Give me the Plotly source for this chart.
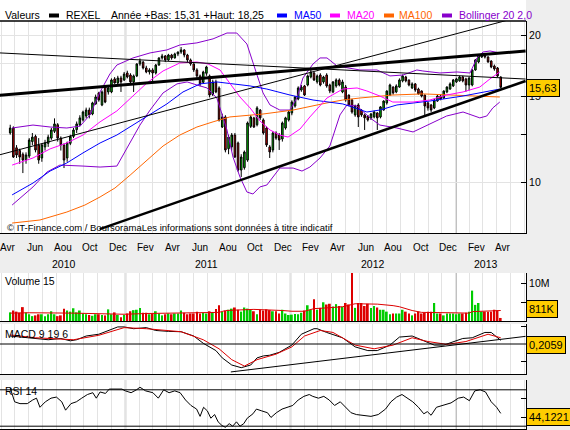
import plotly.graph_objects as go
import pandas as pd

W, H = 570, 430
FONT = "Liberation Sans, Arial, sans-serif"

# ---------------- data ----------------
first_week = "2010-04-21"
x_start, x_end = "2010-03-29 10:00", "2013-06-04 22:00"

open_ = [12.60,12.90,11.75,11.60,11.40,11.10,11.30,12.10,12.40,11.90,
         11.20,11.80,12.00,12.30,12.70,13.10,12.30,11.90,11.20,12.00,
         12.40,12.80,13.10,13.40,13.65,14.04,13.78,14.45,15.22,14.38,
         15.65,15.29,15.29,16.26,15.95,16.33,16.18,16.72,16.56,16.03,
         16.49,17.45,17.60,17.12,16.80,16.96,16.72,17.36,17.95,18.12,
         17.78,18.20,17.95,18.29,18.46,18.64,18.20,17.78,17.45,16.96,
         16.49,16.00,16.70,16.49,15.10,16.03,15.58,12.96,13.59,11.70,
         11.80,12.48,12.02,10.58,10.70,11.09,13.00,13.53,13.10,14.04,
         13.40,12.90,11.80,11.63,12.60,12.48,12.25,12.90,13.40,13.85,
         14.31,14.79,15.43,15.73,15.80,16.41,16.72,16.03,16.56,16.03,
         16.56,15.80,15.29,15.73,16.18,15.29,15.65,15.07,14.72,13.72,
         14.38,14.04,13.72,13.65,13.53,13.59,13.85,13.59,14.04,14.52,
         15.07,15.65,15.29,15.65,16.11,16.41,16.18,15.58,15.88,15.50,
         15.36,15.07,14.52,14.38,14.18,14.65,15.00,14.86,15.29,15.50,
         15.73,16.03,16.11,16.41,16.26,15.80,15.80,16.96,17.61,18.03,
         18.20,18.03,17.69,17.28,17.12,16.41]
high = [13.10,13.00,11.90,11.70,11.50,11.50,12.30,12.60,12.50,12.30,
        12.00,12.20,12.50,12.90,13.50,13.20,12.40,12.00,12.10,12.50,
        12.90,13.30,13.70,14.00,14.20,14.20,14.60,15.10,15.30,15.40,
        15.80,15.70,16.30,16.40,16.50,16.50,16.80,16.90,16.70,16.60,
        17.50,17.90,17.70,17.30,17.10,17.10,17.45,18.00,18.30,18.20,
        18.30,18.30,18.40,18.50,18.90,18.70,18.30,17.90,17.50,17.10,
        16.60,16.90,17.30,16.60,16.20,16.20,15.70,13.80,13.70,12.50,
        12.60,12.60,12.10,11.40,11.60,13.30,13.70,13.60,14.30,14.10,
        13.50,13.00,11.90,12.70,12.70,12.60,13.30,13.60,14.00,14.70,
        15.00,15.70,15.80,15.80,16.60,17.04,16.80,16.60,16.70,16.50,
        16.70,15.90,16.10,16.30,16.30,16.20,15.80,15.10,14.80,14.40,
        14.50,14.10,13.80,13.70,13.85,14.00,13.90,14.30,14.70,15.40,
        15.90,15.70,15.85,16.30,16.60,16.50,16.20,16.00,15.95,15.60,
        15.40,15.10,14.60,14.45,14.80,15.10,15.10,15.40,15.70,16.00,
        16.25,16.35,16.50,16.50,16.35,16.40,17.00,17.85,18.15,18.25,
        18.22,18.10,17.75,17.40,17.20,16.45]
low = [12.50,11.20,11.20,10.90,10.43,10.90,11.20,11.90,11.50,10.90,
       11.00,11.60,11.80,12.20,12.60,12.10,11.60,10.68,11.00,11.90,
       12.30,12.60,13.00,13.30,13.50,13.50,13.70,14.40,14.60,14.30,
       14.50,15.10,15.20,15.90,15.80,15.29,16.10,16.30,15.95,15.29,
       16.40,17.30,17.00,16.70,16.60,16.10,16.60,17.30,17.80,17.60,
       17.70,17.80,17.90,18.10,18.30,18.00,17.60,17.30,16.80,16.30,
       15.70,15.90,16.50,14.90,15.00,15.20,13.30,12.90,11.50,11.40,
       11.60,11.20,10.50,10.24,10.60,11.00,12.90,12.90,13.00,13.40,
       12.50,11.80,11.20,11.50,12.20,11.63,12.10,12.80,13.30,13.70,
       14.20,14.70,15.30,15.00,15.70,16.30,16.10,15.90,15.70,15.90,
       15.60,15.20,15.20,15.60,15.70,15.20,14.60,14.30,13.80,13.60,
       12.96,13.60,12.78,13.30,13.40,13.50,12.78,13.50,14.00,14.40,
       15.00,15.10,15.20,15.60,16.00,16.00,15.70,15.50,15.30,15.10,
       14.90,13.59,14.00,13.90,14.10,14.60,14.70,14.80,15.20,15.45,
       15.65,15.95,16.05,16.00,15.31,15.40,15.70,16.90,17.50,17.95,
       17.90,17.55,17.10,16.90,16.40,15.55]
close = [12.90,11.25,11.36,11.25,11.09,11.36,12.19,12.36,11.63,11.09,
         11.91,12.02,12.36,12.78,13.15,12.30,11.91,11.09,12.02,12.40,
         12.78,13.15,13.53,13.91,14.04,13.72,14.52,14.93,14.72,15.29,
         14.58,15.58,16.18,15.95,16.33,16.03,16.64,16.41,16.03,16.49,
         17.45,17.69,17.12,16.80,16.96,16.72,17.36,17.95,18.12,17.78,
         18.20,17.95,18.29,18.46,18.64,18.20,17.78,17.45,16.96,16.49,
         15.88,16.80,17.20,15.07,16.03,15.29,13.40,13.59,11.63,12.36,
         12.48,11.25,10.58,11.25,11.52,13.21,13.59,12.96,14.18,13.53,
         12.60,11.91,11.52,12.60,12.30,12.19,13.21,13.53,13.91,14.58,
         14.93,15.58,15.65,15.07,16.49,16.80,16.18,16.49,15.80,16.41,
         15.73,15.36,16.03,16.18,15.80,16.03,14.72,14.38,13.91,14.31,
         13.59,13.72,13.53,13.40,13.78,13.91,13.53,14.25,14.65,15.36,
         15.80,15.22,15.73,16.18,16.49,16.11,15.80,15.88,15.43,15.15,
         15.00,14.31,14.18,14.04,14.72,15.00,14.79,15.36,15.65,15.88,
         16.18,16.26,16.41,16.11,15.80,16.33,16.96,17.78,18.12,18.20,
         18.03,17.61,17.20,17.04,16.49,15.63]
volume_m = [2.3,2.8,2.5,2.2,3.7,2.3,1.8,1.3,1.5,1.8,
            1.8,1.3,1.8,2.6,1.8,1.3,1.5,3.3,2.8,2.5,
            3.4,2.3,2.8,2.0,1.8,1.6,1.4,1.8,1.8,1.6,
            1.5,3.1,1.8,2.3,1.6,1.0,1.6,2.0,2.6,2.9,
            3.0,3.5,2.2,2.2,1.8,2.0,2.6,2.0,1.5,1.8,
            2.0,1.8,2.0,2.0,2.8,2.2,1.8,2.0,2.0,2.5,
            2.0,2.2,2.0,2.6,2.4,3.2,4.2,2.4,2.7,3.0,
            3.3,3.6,3.0,2.5,3.6,3.3,3.0,2.6,1.8,3.0,
            2.8,3.1,2.9,2.6,2.6,2.0,3.0,2.0,1.6,1.7,
            1.9,1.8,2.2,2.8,4.2,3.0,5.8,3.0,3.5,5.0,
            4.4,4.6,3.9,4.5,4.0,3.8,4.8,4.4,13.0,3.5,
            4.8,4.8,4.0,4.6,3.5,4.0,3.6,3.0,3.0,2.5,
            1.8,2.0,2.0,2.0,3.0,2.5,2.0,1.5,2.0,2.5,
            2.0,2.2,2.5,2.5,4.8,2.0,2.0,1.5,2.0,2.0,
            2.0,1.8,2.0,2.0,2.2,2.5,8.1,4.3,4.8,2.5,
            2.5,2.5,2.5,3.0,2.8,0.811]

vol_ma_wk = [0,6,20,33,36,43,54,66,68,77,86,89,93,96,100,105,109,116,121,123,127,130,139,145,146,155]
vol_ma = [2.1,2.2,2.1,2.0,1.8,2.0,2.1,2.3,2.8,3.1,2.8,2.6,2.6,3.3,3.5,3.8,4.6,4.5,4.1,3.8,2.8,2.3,2.2,2.1,2.5,2.8]

ma20_wk = [0.6,7.2,12.6,17.9,23.0,28.4,33.7,38.8,43.2,48.3,53.6,59.0,62.5,66.3,69.4,72.6,75.8,78.9,82.1,85.2,
           87.8,91.6,94.7,100.1,105.1,109.6,112.7,116.8,120.9,127.3,132.6,137.9,143.1,148.4,151.6,154.7]
ma20 = [10.83,11.20,11.69,12.02,12.48,13.28,13.98,15.00,15.95,16.88,17.53,17.61,17.45,16.96,15.95,14.93,14.18,13.34,12.78,12.48,
        12.36,12.84,13.59,14.86,15.50,15.58,15.36,15.00,14.58,14.58,14.72,15.07,15.29,15.65,16.26,16.80]
ma50_wk = [0.6,7.2,12.6,17.9,23.0,28.4,33.7,38.8,44.2,49.5,54.6,60.0,65.3,70.4,75.8,81.1,88.4,95.7,105.1,112.7,116.8,122.2,132.6,143.1,154.7]
ma50 = [9.41,9.95,10.53,10.94,11.47,12.02,12.48,13.08,13.72,14.45,15.29,15.88,16.03,15.88,15.73,15.50,15.07,14.72,14.45,13.91,14.04,14.38,14.65,15.00,15.50]
ma100_wk = [0.6,9.4,17.9,23.6,28.4,33.1,37.9,43.2,48.3,53.6,59.0,64.1,69.4,79.9,89.4,100.1,105.1,110.5,120.9,130.4,141.2,151.6,154.7]
ma100 = [8.24,8.36,8.68,8.97,9.32,9.72,10.33,11.09,11.85,12.48,12.96,13.28,13.59,13.78,14.04,14.52,14.72,14.86,15.07,15.15,15.07,15.00,14.93]
bbu_wk = [0.6,7.2,12.6,17.9,22.1,25.2,28.4,31.5,33.7,38.8,44.2,49.5,53.6,59.0,64.1,68.5,71.6,74.8,78.0,79.9,82.1,85.2,
          88.4,90.6,92.5,95.7,97.9,100.1,103.3,106.4,110.5,115.9,120.0,124.1,128.5,130.4,135.8,141.2,145.3,147.5,149.4,151.6,154.7]
bbu = [12.90,13.08,12.96,12.90,13.02,13.72,15.29,16.64,17.36,17.95,18.38,18.64,19.08,19.27,19.64,20.19,20.19,19.17,16.56,15.22,14.38,14.04,
       14.04,14.86,16.33,17.45,17.95,17.95,17.28,17.12,16.96,16.96,16.49,16.56,16.96,16.88,16.72,16.80,16.72,17.95,18.46,18.55,18.38]
bbl_wk = [0.6,7.2,11.6,15.7,23.0,28.4,33.7,36.9,41.0,44.2,48.3,52.7,55.9,59.0,62.2,65.3,68.5,70.4,72.6,74.8,76.7,78.9,
          81.1,85.2,89.4,92.2,94.7,97.9,101.0,104.2,106.4,109.6,113.7,116.8,122.2,127.3,132.6,137.9,143.1,148.4,150.6,152.5,154.7]
bbl = [8.97,9.77,10.48,10.83,10.78,10.73,10.78,11.74,13.08,14.04,15.22,15.88,16.03,15.80,15.58,14.86,12.78,11.25,10.24,9.54,9.45,9.77,
       9.86,10.68,10.68,10.53,10.73,11.20,11.85,13.72,14.38,14.31,13.53,13.08,12.90,12.66,13.15,13.65,13.91,13.53,13.65,14.18,14.58]

macd_wk = [0,4,8,12,16,19,21,24,28,31,34,36,39,43,46,50,54,58,61,65,67,70,73,76,78,
           80,82,85,89,92,96,97,100,105,109,113,116,120,123,127,130,134,137,140,143,146,150,152,154,155]
macd = [0.45,0.39,0.31,0.24,0.31,0.18,0.24,0.45,0.55,0.76,0.96,0.96,0.86,0.92,0.76,0.71,0.69,0.45,0.04,-0.37,-0.78,-1.18,-1.33,-1.18,-0.78,
        -0.67,-0.63,-0.47,-0.06,0.55,0.86,0.86,0.65,0.35,-0.16,-0.37,-0.37,-0.06,0.39,0.45,0.24,-0.06,-0.06,0.14,0.31,0.35,0.65,0.65,0.35,0.2059]
signal_wk = [0,8,20,28,36,43,54,61,66,70,74,78,84,89,93,98,102,109,115,121,127,132,138,144,151,155]
signal = [0.51,0.35,0.24,0.49,0.92,0.86,0.69,0.24,-0.27,-0.88,-1.24,-0.88,-0.57,-0.16,0.45,0.76,0.65,-0.06,-0.27,-0.06,0.35,0.14,-0.02,0.14,0.55,0.35]

rsi_wk = [0,1.4,3.1,5.4,7.1,8.3,9.4,11.1,12.9,14.6,16.3,17.5,19.2,20.9,22.6,24.4,26.1,27.2,28.4,30.1,
          31.3,33.6,35.3,36.4,38.2,39.9,41.0,42.8,45.1,46.8,48.5,50.2,52.0,53.7,55.4,57.1,58.9,60.0,61.1,62.3,
          63.4,64.6,65.7,66.9,68.0,69.2,70.3,71.5,72.6,73.8,74.9,76.7,77.8,79.5,81.3,82.4,84.1,85.9,87.6,89.3,
          91.0,92.8,94.5,95.6,97.4,99.1,100.8,102.5,104.3,106.0,107.7,109.4,111.7,114.0,116.3,118.6,120.3,122.1,123.8,125.5,
          127.2,129.0,130.7,131.8,133.0,134.7,137.0,139.3,141.6,143.3,145.1,146.8,148.5,150.2,152.0,153.7,155.0]
rsi = [72,56.8,54.8,54.8,58.8,60.8,50.8,56.8,60.8,62,56.8,47.6,54.8,56.8,60.8,64.8,66.8,60.8,67.6,66,
       70.8,71.2,70.8,68.8,66.8,70,72.8,68.8,66.8,60.8,70,66.8,68.8,66.8,58.8,52.8,48.8,40.8,50.8,46.8,
       38.8,42.8,34.8,30.8,28.8,32.8,30,34.8,30,32.8,38.8,43.6,48.8,46.8,44.8,39.6,44.8,48.8,50.8,52.8,
       58.8,62.8,64.8,62.8,60.8,62.8,58.8,52.8,56.8,50.8,44.8,42.8,42,40.8,42.8,48.8,56.8,62,64.8,60.8,
       56.8,50.8,43.6,46,42,50.8,52.8,55.6,60.8,62,58,68.8,70,67.6,56.8,50.8,44.1221]

# trend lines: (date0, price0, date1, price1, width)
price_trends = [("2010-03-29", 15.06, "2013-06-04", 18.55, 3.0),
                ("2010-03-29", 18.38, "2013-06-04", 16.25, 1.0),
                ("2010-03-29", 11.37, "2013-06-04", 21.94, 1.0),
                ("2010-11-05", 8.01, "2013-06-04", 16.10, 2.5)]
macd_trend = ("2011-08-22", -1.57, "2013-06-04", 0.43)

month_ticks = [("2010-04-15", "Avr"), ("2010-06-15", "Jun"), ("2010-08-15", "Aou"), ("2010-10-15", "Oct"),
               ("2010-12-15", "Dec"), ("2011-02-15", "Fev"), ("2011-04-15", "Avr"), ("2011-06-15", "Jun"),
               ("2011-08-15", "Aou"), ("2011-10-15", "Oct"), ("2011-12-15", "Dec"), ("2012-02-15", "Fev"),
               ("2012-04-15", "Avr"), ("2012-06-15", "Jun"), ("2012-08-15", "Aou"), ("2012-10-15", "Oct"),
               ("2012-12-15", "Dec"), ("2013-02-15", "Fev"), ("2013-04-15", "Avr")]
year_ticks = [("2010-08-18", "2010"), ("2011-06-30", "2011"), ("2012-07-01", "2012"), ("2013-03-08", "2013")]
year_starts = ["2011-01-01", "2012-01-01", "2013-01-01"]

# ---------------- helpers ----------------
base = pd.Timestamp(first_week)
def wk_dates(wks):
    return [base + pd.Timedelta(days=7 * w) for w in wks]

dates = wk_dates(range(len(close)))

def fr(v):
    return f"{v:.2f}".replace(".", ",")

year2013 = [i for i, d in enumerate(dates) if d.year == 2013]
year_low = min(low[i] for i in year2013)
year_high = max(high[i] for i in year2013)

fig = go.Figure()

# price panel lines
for wk, vals, col in [(bbu_wk, bbu, "#8800cc"), (bbl_wk, bbl, "#8800cc"),
                      (ma100_wk, ma100, "#ff6600"), (ma50_wk, ma50, "#0000ff"), (ma20_wk, ma20, "#ff00ff")]:
    fig.add_trace(go.Scatter(x=wk_dates(wk), y=vals, mode="lines", line=dict(color=col, width=1),
                             xaxis="x", yaxis="y", hoverinfo="skip"))

fig.add_trace(go.Candlestick(x=dates, open=open_, high=high, low=low, close=close,
                             increasing=dict(line=dict(color="black", width=1), fillcolor="#00cc00"),
                             decreasing=dict(line=dict(color="black", width=1), fillcolor="#dd0000"),
                             whiskerwidth=0, xaxis="x", yaxis="y"))

for d0, p0, d1, p1, wdt in price_trends:
    fig.add_trace(go.Scatter(x=[d0, d1], y=[p0, p1], mode="lines", line=dict(color="black", width=wdt),
                             xaxis="x", yaxis="y", hoverinfo="skip"))

# volume panel
vcol = ["#00cc00" if c >= o else "#dd0000" for o, c in zip(open_, close)]
fig.add_trace(go.Bar(x=dates, y=volume_m, marker=dict(color=vcol, line=dict(width=0)),
                     width=4 * 86400000, xaxis="x2", yaxis="y2"))
fig.add_trace(go.Scatter(x=wk_dates(vol_ma_wk), y=vol_ma, mode="lines", line=dict(color="#dd0000", width=1),
                         xaxis="x2", yaxis="y2"))

# MACD panel
fig.add_trace(go.Scatter(x=wk_dates(macd_wk), y=macd, mode="lines", line=dict(color="black", width=1),
                         xaxis="x3", yaxis="y3"))
fig.add_trace(go.Scatter(x=wk_dates(signal_wk), y=signal, mode="lines", line=dict(color="#dd0000", width=1),
                         xaxis="x3", yaxis="y3"))
fig.add_trace(go.Scatter(x=[macd_trend[0], macd_trend[2]], y=[macd_trend[1], macd_trend[3]], mode="lines",
                         line=dict(color="black", width=1), xaxis="x3", yaxis="y3"))

# RSI panel
fig.add_trace(go.Scatter(x=wk_dates(rsi_wk), y=rsi, mode="lines", line=dict(color="black", width=1),
                         xaxis="x4", yaxis="y4"))

# ---------------- layout ----------------
def dom(top_px, bot_px):
    return [1 - bot_px / H, 1 - top_px / H]

xcommon = dict(type="date", range=[x_start, x_end], domain=[0, 526 / W], showgrid=True,
               gridcolor="#e3e3e3", gridwidth=1, dtick="M1", tick0="2010-01-01",
               showticklabels=False, ticks="", showline=True, linecolor="black", linewidth=1,
               zeroline=False, fixedrange=True)
ycommon = dict(side="right", showline=True, linecolor="black", linewidth=1, ticks="inside",
               ticklen=5, tickcolor="black", tickfont=dict(size=10.5, family=FONT, color="black"),
               zeroline=False, fixedrange=True)

layout = dict(
    width=W, height=H, margin=dict(l=0, r=0, t=0, b=0), showlegend=False,
    paper_bgcolor="#eeeeee", plot_bgcolor="white",
    xaxis=dict(xcommon, anchor="y", rangeslider=dict(visible=False)),
    xaxis2=dict(xcommon, anchor="y2", matches="x"),
    xaxis3=dict(xcommon, anchor="y3", matches="x"),
    xaxis4=dict(xcommon, anchor="y4", matches="x"),
    yaxis=dict(ycommon, anchor="x", domain=dom(21, 233), type="log", range=[0.89556, 1.32971],
               tickvals=[10, 12.5, 15, 17.5, 20], ticktext=["10", "", "15", "", "20"],
               showgrid=True, gridcolor="#e3e3e3"),
    yaxis2=dict(ycommon, anchor="x2", domain=dom(273, 321), range=[0, 12.8],
                tickvals=[5, 10], ticktext=["", "10M"], showgrid=False),
    yaxis3=dict(ycommon, anchor="x3", domain=dom(324, 374), range=[-1.685, 1.124],
                tickvals=[-1, 1], ticktext=["", ""], showgrid=False),
    yaxis4=dict(ycommon, anchor="x4", domain=dom(380, 429), range=[26.92, 80.77],
                tickvals=[40, 60], ticktext=["", ""], showgrid=False),
)
fig.update_layout(**layout)

shapes = []
# legend strip
shapes.append(dict(type="rect", xref="paper", yref="paper", x0=0, x1=526 / W, y0=1 - 21 / H, y1=1,
                   fillcolor="white", line=dict(width=0), layer="below"))
shapes.append(dict(type="line", xref="paper", yref="paper", x0=0, x1=526 / W, y0=1 - 21 / H, y1=1 - 21 / H,
                   line=dict(color="black", width=1.5)))
for d in year_starts:
    for ax in ["y", "y2", "y3", "y4"]:
        shapes.append(dict(type="line", xref="x", yref=f"{ax} domain", x0=d, x1=d, y0=0, y1=1,
                           line=dict(color="#a8a8a8", width=1.5), layer="below"))
shapes.append(dict(type="line", xref="x3 domain", yref="y3", x0=0, x1=1, y0=0, y1=0, line=dict(color="black", width=1)))
for lv in [30, 70]:
    shapes.append(dict(type="line", xref="x4 domain", yref="y4", x0=0, x1=1, y0=lv, y1=lv,
                       line=dict(color="black", width=1)))
for x0, col in [(49, "black"), (277, "#0000ff"), (330, "#ff00ff"), (384, "#ff6600"), (442, "#8800cc")]:
    shapes.append(dict(type="rect", xref="paper", yref="paper", x0=x0 / W, x1=(x0 + 10) / W,
                       y0=1 - 17.5 / H, y1=1 - 13.5 / H, fillcolor=col, line=dict(width=0)))
fig.update_layout(shapes=shapes)

def label(text, x_px, y_px, size=10.5, color="black", anchor="left"):
    return dict(text=text, x=x_px / W, y=1 - y_px / H, xref="paper", yref="paper", xanchor=anchor,
                yanchor="middle", showarrow=False, font=dict(size=size, color=color, family=FONT))

ann = []
ann.append(label("Valeurs", 2.5, 14.5))
ann.append(label("REXEL", 63.5, 14.5))
ann.append(label(f"Année +Bas: {fr(year_low)} +Haut: {fr(year_high)}", 109, 14.5))
ann.append(label("MA50", 291.5, 14.5, color="#0000ff"))
ann.append(label("MA20", 344.5, 14.5, color="#ff00ff"))
ann.append(label("MA100", 397, 14.5, color="#ff6600"))
ann.append(label("Bollinger 20 2,0", 456.5, 14.5, color="#8800cc"))

ann.append(label("© IT-Finance.com / BoursoramaLes informations sont données à titre indicatif", 5, 228, size=9.5))
ann.append(label("Volume 15", 3, 281))
ann.append(label("MACD 9 19 6", 3, 334))
ann.append(label("RSI 14", 3, 391))

for d, t in month_ticks:
    ann.append(dict(text=t, x=d, y=1 - 247 / H, xref="x", yref="paper", xanchor="center", yanchor="middle",
                    showarrow=False, font=dict(size=10, family=FONT, color="black")))
for d, t in year_ticks:
    ann.append(dict(text=t, x=d, y=1 - 263.5 / H, xref="x", yref="paper", xanchor="center", yanchor="middle",
                    showarrow=False, font=dict(size=10.5, family=FONT, color="black")))

def box(text, y_px):
    return dict(text=text, x=526 / W, y=1 - y_px / H, xref="paper", yref="paper", xanchor="left",
                yanchor="middle", showarrow=False, bgcolor="#ffcc00", bordercolor="black", borderwidth=1,
                borderpad=2, font=dict(size=11, family=FONT, color="black"))

ann.append(box(fr(close[-1]), 87.5))
ann.append(box(f"{round(volume_m[-1] * 1000)}K", 308.5))
ann.append(box(f"{macd[-1]:.4f}".replace(".", ","), 344.8))
ann.append(box(f"{rsi[-1]:.4f}".replace(".", ","), 416.5))
fig.update_layout(annotations=ann)

fig.write_html("out.html")
